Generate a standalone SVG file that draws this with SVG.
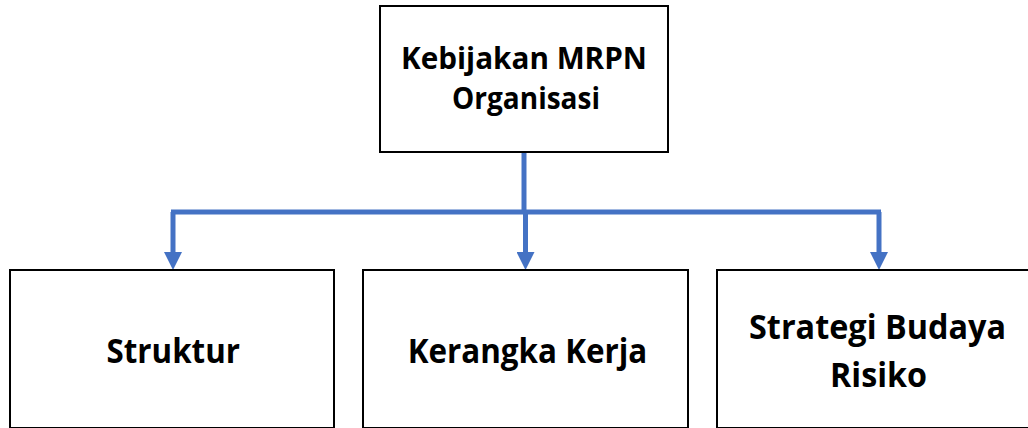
<svg xmlns="http://www.w3.org/2000/svg" width="1028" height="428" viewBox="0 0 1028 428">
<style>
.box{fill:#fff;stroke:#000;stroke-width:2}
.lbl{font-family:"Open Sans","Liberation Sans",sans-serif;font-weight:bold;fill:#000}
.top{font-size:29.5px}
.bot{font-size:34px}
.conn{fill:none;stroke:#4472C4;stroke-width:5}
</style>
<defs>
<marker id="arr" markerUnits="userSpaceOnUse" viewBox="0 0 18 18" markerWidth="18" markerHeight="18" refX="0" refY="9" orient="auto">
<path d="M0,0 L18,9 L0,18 Z" fill="#4472C4"/>
</marker>
</defs>
<rect x="0" y="0" width="1028" height="428" fill="#fff"/>
<g id="connectors">
<path class="conn" d="M524,152 L524,212"/>
<path class="conn" d="M171,212 L881,212"/>
<path class="conn" d="M173,212 L173,252" marker-end="url(#arr)"/>
<path class="conn" d="M525.5,212 L525.5,252" marker-end="url(#arr)"/>
<path class="conn" d="M879,212 L879,252" marker-end="url(#arr)"/>
</g>
<g id="node-kebijakan">
<rect class="box" x="380" y="6" width="288" height="146"/>
<text class="lbl top" x="401" y="68.5" textLength="246" lengthAdjust="spacingAndGlyphs">Kebijakan MRPN</text>
<text class="lbl top" x="452" y="108.5" textLength="148" lengthAdjust="spacingAndGlyphs">Organisasi</text>
</g>
<g id="node-struktur">
<rect class="box" x="10" y="270" width="324" height="158"/>
<text class="lbl bot" x="106.5" y="362.7" textLength="133.5" lengthAdjust="spacingAndGlyphs">Struktur</text>
</g>
<g id="node-kerangka">
<rect class="box" x="363" y="270" width="325" height="158"/>
<text class="lbl bot" x="407.7" y="362.7" textLength="239.6" lengthAdjust="spacingAndGlyphs">Kerangka Kerja</text>
</g>
<g id="node-strategi">
<rect class="box" x="717" y="270" width="330" height="158"/>
<text class="lbl bot" x="749" y="339.3" textLength="257" lengthAdjust="spacingAndGlyphs">Strategi Budaya</text>
<text class="lbl bot" x="830" y="386.7" textLength="97" lengthAdjust="spacingAndGlyphs">Risiko</text>
</g>
</svg>
